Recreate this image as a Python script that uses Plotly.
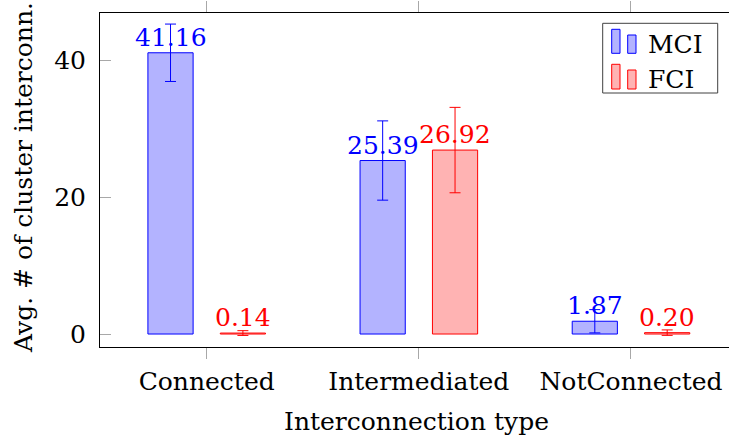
import plotly.graph_objects as go

# ---- data ----
categories = ["Connected", "Intermediated", "NotConnected"]
mci_values = [41.16, 25.39, 1.87]
mci_errors = [4.2, 5.8, 1.7]
fci_values = [0.14, 26.92, 0.20]
fci_errors = [0.35, 6.25, 0.4]
y_ticks = [0, 20, 40]

# ---- styling / layout constants (pixels) ----
W, H = 729, 439
L, R, T, B = 100, 0, 13, 92
PW, PH = W - L - R, H - T - B
X_RANGE = [-0.503, 2.462]
Y_RANGE = [-1.9, 46.98]
BAR_W = 0.213
BAR_SHIFT = 0.1706
FONT = "DejaVu Serif"
FS = 25
BLUE, RED = "#0000ff", "#ff0000"
BLUE_FILL, RED_FILL = "#b3b3ff", "#ffb3b3"
TICK_GRAY = "#a8a8a8"


def px_x(p):
    return (p - L) / PW


def px_y(p):
    return (T + PH - p) / PH


fig = go.Figure()

series = [
    ("MCI", mci_values, mci_errors, BLUE, BLUE_FILL, -BAR_SHIFT),
    ("FCI", fci_values, fci_errors, RED, RED_FILL, BAR_SHIFT),
]

for name, vals, errs, line_c, fill_c, shift in series:
    fig.add_trace(go.Bar(
        name=name,
        x=categories,
        y=vals,
        width=BAR_W,
        offset=shift - BAR_W / 2,
        marker=dict(color=fill_c, line=dict(color=line_c, width=1)),
        error_y=dict(type="data", array=errs, color=line_c,
                     thickness=1, width=5.5),
        showlegend=False,
    ))
    # value labels above each bar
    for i, v in enumerate(vals):
        fig.add_annotation(
            x=i + shift, y=v, xref="x", yref="y",
            text=f"{v:.2f}", showarrow=False,
            xanchor="center", yanchor="bottom", yshift=-1,
            font=dict(family=FONT, size=FS, color=line_c),
        )

# ---- legend (drawn by hand: box, twin-bar icons, labels) ----
fig.add_shape(type="rect", xref="paper", yref="paper",
              x0=px_x(602.7), x1=px_x(717.7), y0=px_y(23.3), y1=px_y(93),
              line=dict(color="#404040", width=1), fillcolor="white")
legend_rows = [("MCI", BLUE, BLUE_FILL, 29.3, 35.0, 53.3),
               ("FCI", RED, RED_FILL, 64.3, 70.0, 89.0)]
for label, line_c, fill_c, top1, top2, base in legend_rows:
    for x0, top in ((611.7, top1), (627.7, top2)):
        fig.add_shape(type="rect", xref="paper", yref="paper",
                      x0=px_x(x0), x1=px_x(x0 + 8.3),
                      y0=px_y(base), y1=px_y(top),
                      line=dict(color=line_c, width=1), fillcolor=fill_c)
    fig.add_annotation(x=px_x(646), y=px_y(base - 9), xref="paper", yref="paper",
                       text=label, showarrow=False, xanchor="left", yanchor="middle",
                       font=dict(family=FONT, size=FS, color="black"))

# ---- axis titles ----
fig.add_annotation(x=px_x(416.5), y=px_y(421.7), xref="paper", yref="paper",
                   text="Interconnection type", showarrow=False,
                   xanchor="center", yanchor="middle",
                   font=dict(family=FONT, size=FS, color="black"))
fig.add_annotation(x=px_x(24), y=px_y(178), xref="paper", yref="paper",
                   text="Avg. # of cluster interconn.", showarrow=False,
                   textangle=-90, xanchor="center", yanchor="middle",
                   font=dict(family=FONT, size=FS, color="black"))

fig.update_layout(
    width=W, height=H,
    margin=dict(l=L, r=R, t=T, b=B, pad=0),
    paper_bgcolor="white", plot_bgcolor="white",
    barmode="overlay",
    xaxis=dict(
        type="category", range=X_RANGE,
        showline=True, linecolor="black", linewidth=1, mirror="ticks",
        ticks="outside", ticklen=11, tickcolor=TICK_GRAY, tickwidth=1,
        showgrid=False, zeroline=False,
        tickfont=dict(family=FONT, size=FS, color="black"),
        ticklabelstandoff=1,
    ),
    yaxis=dict(
        range=Y_RANGE, tickvals=y_ticks,
        showline=True, linecolor="black", linewidth=1, mirror=False,
        ticks="inside", ticklen=11, tickcolor=TICK_GRAY, tickwidth=1,
        showgrid=False, zeroline=False,
        tickfont=dict(family=FONT, size=FS, color="black"),
        ticklabelstandoff=8,
    ),
    yaxis2=dict(
        overlaying="y", side="right", matches="y", range=Y_RANGE,
        tickvals=y_ticks, showticklabels=False, showline=False,
        ticks="inside", ticklen=4, tickcolor=TICK_GRAY, tickwidth=1,
        showgrid=False, zeroline=False,
    ),
)

fig.write_html("out.html")
